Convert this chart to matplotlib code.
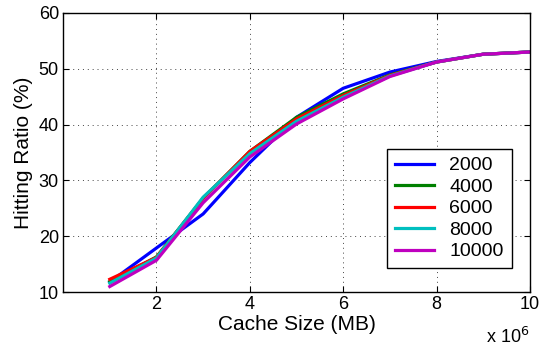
import matplotlib

matplotlib.use("Agg")
import matplotlib.pyplot as plt
from matplotlib.ticker import FuncFormatter

plt.rcParams["font.family"] = ["Liberation Sans", "DejaVu Sans"]

cache_size = [1e6, 2e6, 3e6, 4e6, 5e6, 6e6, 7e6, 8e6, 9e6, 1e7]
series_labels = ["2000", "4000", "6000", "8000", "10000"]
series_colors = ["#0000ff", "#008000", "#ff0000", "#00bfbf", "#bf00bf"]
hit_ratio = [
    [11.8, 17.9, 24.0, 33.2, 41.3, 46.5, 49.4, 51.3, 52.6, 53.0],
    [11.9, 16.3, 26.8, 35.2, 41.3, 45.5, 48.9, 51.2, 52.6, 53.0],
    [12.3, 16.2, 26.8, 35.2, 41.0, 45.2, 48.8, 51.2, 52.6, 53.0],
    [11.6, 16.1, 27.0, 34.8, 40.6, 44.9, 48.7, 51.2, 52.6, 53.0],
    [11.0, 15.7, 26.0, 34.2, 40.1, 44.6, 48.6, 51.2, 52.6, 53.0],
]
x_ticks = [2e6, 4e6, 6e6, 8e6, 1e7]
y_ticks = [10, 20, 30, 40, 50, 60]

fig = plt.figure(figsize=(5.44, 3.49), dpi=100)
ax = fig.add_axes([0.116, 0.163, 0.858, 0.800])

for vals, lab, col in zip(hit_ratio, series_labels, series_colors):
    ax.plot(cache_size, vals, color=col, linewidth=2.3, label=lab)

ax.set_xlim(0, 1e7)
ax.set_ylim(10, 60)
ax.set_xticks(x_ticks)
ax.set_yticks(y_ticks)
ax.xaxis.set_major_formatter(FuncFormatter(lambda v, p: f"{v / 1e6:g}"))
ax.tick_params(direction="in", top=True, right=True, labelsize=13, length=4, pad=3)
ax.grid(True, linestyle=(0, (1, 4)), color="#444444", linewidth=0.7)
for sp in ax.spines.values():
    sp.set_linewidth(1.0)

ax.set_xlabel("Cache Size (MB)", fontsize=15, labelpad=1.5)
ax.set_ylabel("Hitting Ratio (%)", fontsize=15, labelpad=4)
ax.text(1.0, -0.125, "x 10$^6$", transform=ax.transAxes, ha="right", va="top", fontsize=13)

leg = ax.legend(loc="lower right", bbox_to_anchor=(0.961, 0.086), fontsize=14,
                fancybox=False, framealpha=1, edgecolor="black",
                handlelength=2.0, handletextpad=0.8, labelspacing=0.2,
                borderpad=0.4, borderaxespad=0)
leg.get_frame().set_linewidth(1.0)

fig.savefig("out.png", dpi=100)
